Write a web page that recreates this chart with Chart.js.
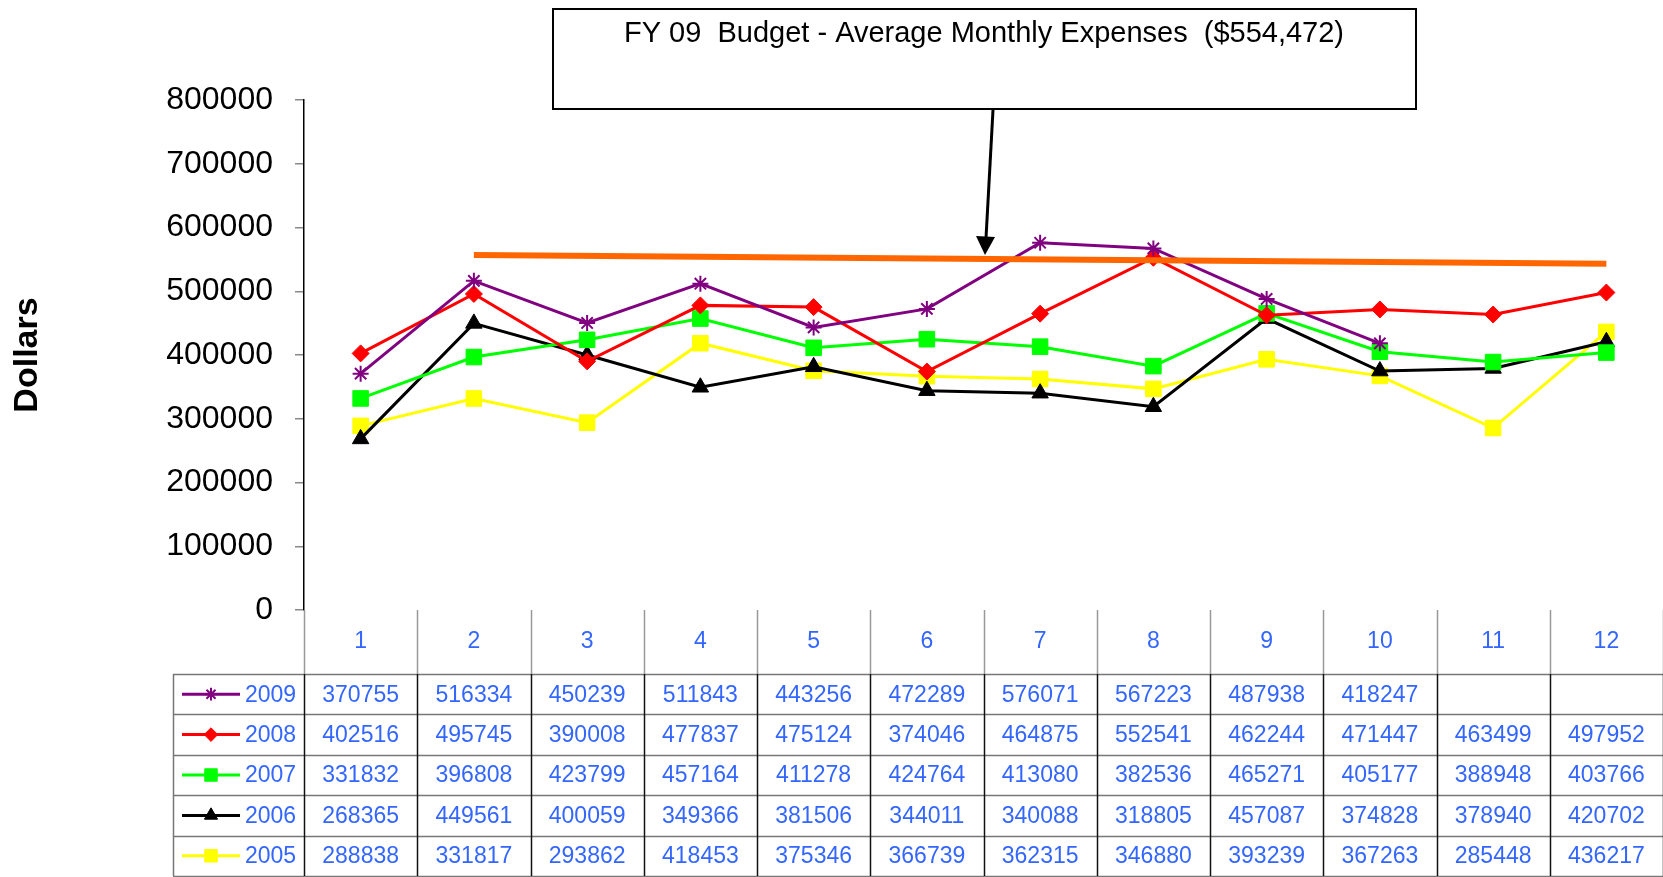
<!DOCTYPE html>
<html>
<head>
<meta charset="utf-8">
<title>Monthly Expenses</title>
<script src="https://cdn.jsdelivr.net/npm/chart.js@4"></script>
<style>
  html, body { margin: 0; padding: 0; background: #fff; }
  canvas { display: block; }
</style>
</head>
<body>
<canvas id="expenseChart" width="1663" height="877"></canvas>
<script>
// Months (category labels along the bottom)
const months = ['1', '2', '3', '4', '5', '6', '7', '8', '9', '10', '11', '12'];

// Monthly expenses per fiscal year
const fy2009 = [370755, 516334, 450239, 511843, 443256, 472289, 576071, 567223, 487938, 418247, null, null];
const fy2008 = [402516, 495745, 390008, 477837, 475124, 374046, 464875, 552541, 462244, 471447, 463499, 497952];
const fy2007 = [331832, 396808, 423799, 457164, 411278, 424764, 413080, 382536, 465271, 405177, 388948, 403766];
const fy2006 = [268365, 449561, 400059, 349366, 381506, 344011, 340088, 318805, 457087, 374828, 378940, 420702];
const fy2005 = [288838, 331817, 293862, 418453, 375346, 366739, 362315, 346880, 393239, 367263, 285448, 436217];

// Hand-drawn budget line (month 2 to month 12)
const budgetLine = [null, 557000, null, null, null, null, null, null, null, null, null, 543000];

const yTicks = [0, 100000, 200000, 300000, 400000, 500000, 600000, 700000, 800000];
const budgetLabel = 'FY 09  Budget - Average Monthly Expenses  ($554,472)';

const tableFont = '23px "Liberation Sans", Arial, sans-serif';
const tableColor = '#3366FF';

const seriesDefs = [
    { label: '2009', data: fy2009, color: '#800080', style: 'star', radius: 8 },
    { label: '2008', data: fy2008, color: '#FF0000', style: 'rectRot', radius: 8.5 },
    { label: '2007', data: fy2007, color: '#00FF00', style: 'rect', radius: 11 },
    { label: '2006', data: fy2006, color: '#000000', style: 'triangle', radius: 9.5 },
    { label: '2005', data: fy2005, color: '#FFFF00', style: 'rect', radius: 11 }
];

// Data table under the plot, Excel style
const dataTablePlugin = {
    id: 'dataTable',
    afterDraw(chart) {
        const ctx = chart.ctx;
        const area = chart.chartArea;
        const x = chart.scales.x;
        const colW = x.getPixelForValue(1) - x.getPixelForValue(0);
        const top = area.bottom;
        const headH = 64;
        const rowH = 40.4;
        const legLeft = 173;
        const bodyTop = top + headH;
        const bottom = bodyTop + rowH * seriesDefs.length;

        ctx.save();

        // horizontal lines
        ctx.strokeStyle = '#777';
        ctx.lineWidth = 1.5;
        for (let r = 0; r <= seriesDefs.length; r++) {
            const y = Math.round(bodyTop + r * rowH) + 0.5;
            ctx.beginPath();
            ctx.moveTo(legLeft, y);
            ctx.lineTo(area.right, y);
            ctx.stroke();
        }

        // header verticals (grey)
        ctx.strokeStyle = '#999';
        for (let i = 0; i <= months.length; i++) {
            const xp = Math.round(area.left + i * colW) + 0.5;
            ctx.beginPath();
            ctx.moveTo(xp, top);
            ctx.lineTo(xp, bodyTop);
            ctx.stroke();
        }

        // body verticals (dark)
        ctx.strokeStyle = '#111';
        for (let i = 0; i <= months.length; i++) {
            const xp = Math.round(area.left + i * colW) + 0.5;
            ctx.beginPath();
            ctx.moveTo(xp, bodyTop);
            ctx.lineTo(xp, bottom);
            ctx.stroke();
        }
        ctx.strokeStyle = '#777';
        ctx.beginPath();
        ctx.moveTo(legLeft + 0.5, bodyTop);
        ctx.lineTo(legLeft + 0.5, bottom);
        ctx.stroke();

        // month labels
        ctx.font = tableFont;
        ctx.fillStyle = tableColor;
        ctx.textAlign = 'center';
        ctx.textBaseline = 'middle';
        months.forEach((m, i) => {
            ctx.fillText(m, x.getPixelForValue(i), top + headH / 2);
        });

        // rows: legend key + values
        seriesDefs.forEach((s, r) => {
            const cy = bodyTop + rowH * (r + 0.5);

            ctx.strokeStyle = s.color;
            ctx.fillStyle = s.color;
            ctx.lineWidth = 3;
            ctx.beginPath();
            ctx.moveTo(182, cy);
            ctx.lineTo(240, cy);
            ctx.stroke();
            ctx.lineWidth = s.style === 'star' ? 2 : 1;
            Chart.helpers.drawPoint(ctx, {
                pointStyle: s.style,
                radius: s.radius * 0.8,
                rotation: 0,
                borderWidth: ctx.lineWidth
            }, 211, cy);

            ctx.fillStyle = tableColor;
            ctx.font = tableFont;
            ctx.textAlign = 'left';
            ctx.fillText(s.label, 245, cy + 1);

            ctx.textAlign = 'center';
            s.data.forEach((v, i) => {
                if (v === null) return;
                ctx.fillText(String(v), x.getPixelForValue(i), cy + 1);
            });
        });

        // callout box with arrow
        ctx.fillStyle = '#fff';
        ctx.strokeStyle = '#000';
        ctx.lineWidth = 2;
        ctx.fillRect(553, 9, 863, 100);
        ctx.strokeRect(553, 9, 863, 100);
        ctx.fillStyle = '#000';
        ctx.font = '29px "Liberation Sans", Arial, sans-serif';
        ctx.textAlign = 'center';
        ctx.textBaseline = 'middle';
        ctx.fillText(budgetLabel, 984, 34);

        ctx.lineWidth = 3;
        ctx.beginPath();
        ctx.moveTo(993, 110);
        ctx.lineTo(986, 238);
        ctx.stroke();
        ctx.beginPath();
        ctx.moveTo(985, 255);
        ctx.lineTo(976, 236);
        ctx.lineTo(995, 237);
        ctx.closePath();
        ctx.fill();

        ctx.restore();
    }
};

const datasets = [{
    label: 'Budget',
    data: budgetLine,
    borderColor: '#FF6600',
    borderWidth: 6,
    pointRadius: 0,
    spanGaps: true,
    borderCapStyle: 'butt'
}].concat(seriesDefs.map(s => ({
    label: s.label,
    data: s.data,
    borderColor: s.color,
    backgroundColor: s.color,
    borderWidth: 3,
    pointStyle: s.style,
    pointRadius: s.radius,
    pointBorderWidth: s.style === 'star' ? 2 : 1,
    pointBorderColor: s.color,
    pointBackgroundColor: s.color,
    spanGaps: false
})));

new Chart(document.getElementById('expenseChart'), {
    type: 'line',
    data: { labels: months, datasets: datasets },
    options: {
        responsive: false,
        animation: false,
        layout: { autoPadding: false, padding: { top: 100, bottom: 267, left: 0, right: 0 } },
        plugins: {
            legend: { display: false },
            tooltip: { enabled: false }
        },
        scales: {
            x: {
                display: false,
                offset: true
            },
            y: {
                min: 0,
                max: 800000,
                afterFit: (scale) => { scale.width = 304; },
                afterBuildTicks: (scale) => { scale.ticks = yTicks.map(v => ({ value: v })); },
                border: { display: true, color: '#000', width: 1.5 },
                grid: {
                    drawOnChartArea: false,
                    drawTicks: true,
                    tickLength: 9,
                    color: '#888',
                    lineWidth: 1.5
                },
                ticks: {
                    padding: 22,
                    color: '#000',
                    font: { family: '"Liberation Sans", Arial, sans-serif', size: 32 },
                    callback: (v) => String(v)
                },
                title: {
                    display: true,
                    text: 'Dollars',
                    color: '#000',
                    font: { family: '"Liberation Sans", Arial, sans-serif', size: 34, weight: 'bold' },
                    padding: { top: 7, bottom: 0 }
                }
            }
        }
    },
    plugins: [dataTablePlugin]
});
</script>
</body>
</html>
